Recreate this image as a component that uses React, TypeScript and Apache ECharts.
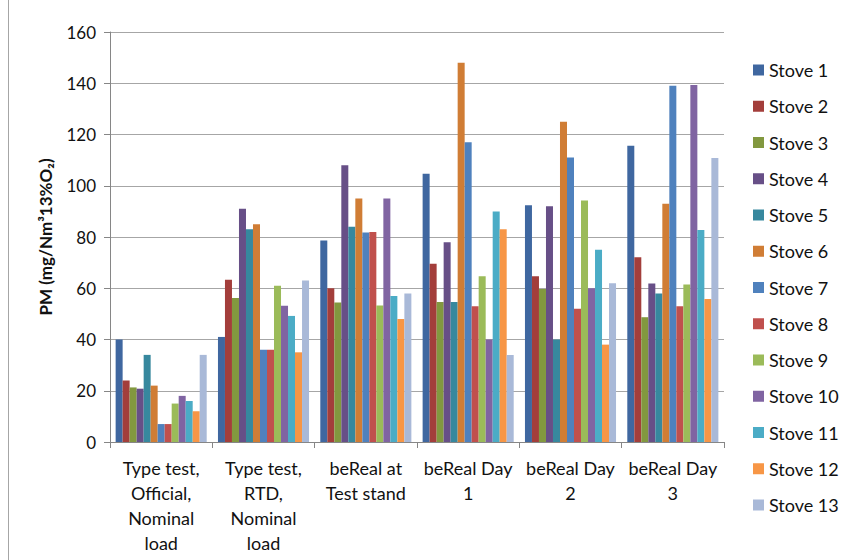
import React, { useEffect, useRef } from "react";
import * as echarts from "echarts";

const categories = [
  "Type test,\nOfficial,\nNominal\nload",
  "Type test,\nRTD,\nNominal\nload",
  "beReal at\nTest stand",
  "beReal Day\n1",
  "beReal Day\n2",
  "beReal Day\n3",
];

const stoveNames = [
  "Stove 1", "Stove 2", "Stove 3", "Stove 4", "Stove 5", "Stove 6", "Stove 7",
  "Stove 8", "Stove 9", "Stove 10", "Stove 11", "Stove 12", "Stove 13",
];

const stove1 = [40, 41, 78.6, 104.7, 92.4, 115.6];
const stove2 = [24, 63.3, 60, 69.6, 64.7, 72.1];
const stove3 = [21.3, 56.2, 54.4, 54.6, 59.7, 48.7];
const stove4 = [20.8, 91, 108, 78, 92, 61.9];
const stove5 = [34, 83, 84, 54.6, 40, 58];
const stove6 = [22, 85, 95, 148, 125, 93];
const stove7 = [7, 36, 81.8, 117, 111, 139];
const stove8 = [7, 36, 82, 53, 52, 53];
const stove9 = [15, 61, 53.3, 64.7, 94.2, 61.5];
const stove10 = [18, 53.2, 95, 40, 60, 139.3];
const stove11 = [16, 49.2, 57, 90, 75, 82.7];
const stove12 = [12, 35, 48, 83, 38, 55.8];
const stove13 = [34, 63, 58, 34, 62, 110.8];

const stoveValues = [
  stove1, stove2, stove3, stove4, stove5, stove6, stove7,
  stove8, stove9, stove10, stove11, stove12, stove13,
];

const colors = [
  "#3F67A0", "#A33E3B", "#82983F", "#674F87", "#37889E", "#D07D35", "#4F81BD",
  "#C0504D", "#9BBB59", "#8064A2", "#4BACC6", "#F79646", "#A9B9D8",
];

const yTicks = { min: 0, max: 160, interval: 20 };

const FONT = "Lato, 'Open Sans', sans-serif";

export default function App() {
  const ref = useRef<HTMLDivElement>(null);

  useEffect(() => {
    if (!ref.current) return;
    const chart = echarts.init(ref.current, undefined, { renderer: "svg" });
    chart.setOption({
      animation: false,
      backgroundColor: "#ffffff",
      color: colors,
      textStyle: { fontFamily: FONT },
      grid: { left: 110, right: 124, top: 32, bottom: 118, containLabel: false },
      legend: {
        orient: "vertical",
        left: 748,
        top: 56,
        itemWidth: 11,
        itemHeight: 11,
        itemGap: 18.25,
        itemTextGap: 5,
        icon: "rect",
        itemStyle: { borderWidth: 0 },
        textStyle: { fontSize: 18, lineHeight: 18, color: "#111", fontFamily: FONT },
        data: stoveNames,
      },
      xAxis: {
        type: "category",
        data: categories,
        axisLine: { lineStyle: { color: "#868686", width: 1 } },
        axisTick: { show: true, length: 6, alignWithLabel: false, lineStyle: { color: "#868686" } },
        axisLabel: {
          interval: 0,
          fontSize: 18,
          lineHeight: 25,
          color: "#111",
          margin: 13,
          fontFamily: FONT,
        },
        splitLine: { show: false },
      },
      yAxis: {
        type: "value",
        min: yTicks.min,
        max: yTicks.max,
        interval: yTicks.interval,
        name: "PM (mg/Nm³13%O₂)",
        nameLocation: "middle",
        nameGap: 56,
        nameTextStyle: { fontSize: 17, fontWeight: "bold", color: "#111", fontFamily: FONT },
        axisLine: { show: true, lineStyle: { color: "#868686", width: 1 } },
        axisTick: { show: true, length: 6, lineStyle: { color: "#868686" } },
        axisLabel: { fontSize: 17, color: "#111", margin: 14, fontFamily: FONT },
        splitLine: { show: true, lineStyle: { color: "#A6A6A6", width: 1 } },
      },
      series: stoveNames.map((name, i) => ({
        name,
        type: "bar",
        data: stoveValues[i],
        barGap: "0%",
        barCategoryGap: "11%",
        itemStyle: { color: colors[i] },
      })),
      graphic: [
        {
          type: "line",
          shape: { x1: 8.5, y1: 0, x2: 8.5, y2: 560 },
          style: { stroke: "#A6A6A6", lineWidth: 1 },
        },
      ],
    });
    return () => chart.dispose();
  }, []);

  return (
    <div
      ref={ref}
      style={{ position: "fixed", left: 0, top: 0, width: 848, height: 560 }}
    />
  );
}
